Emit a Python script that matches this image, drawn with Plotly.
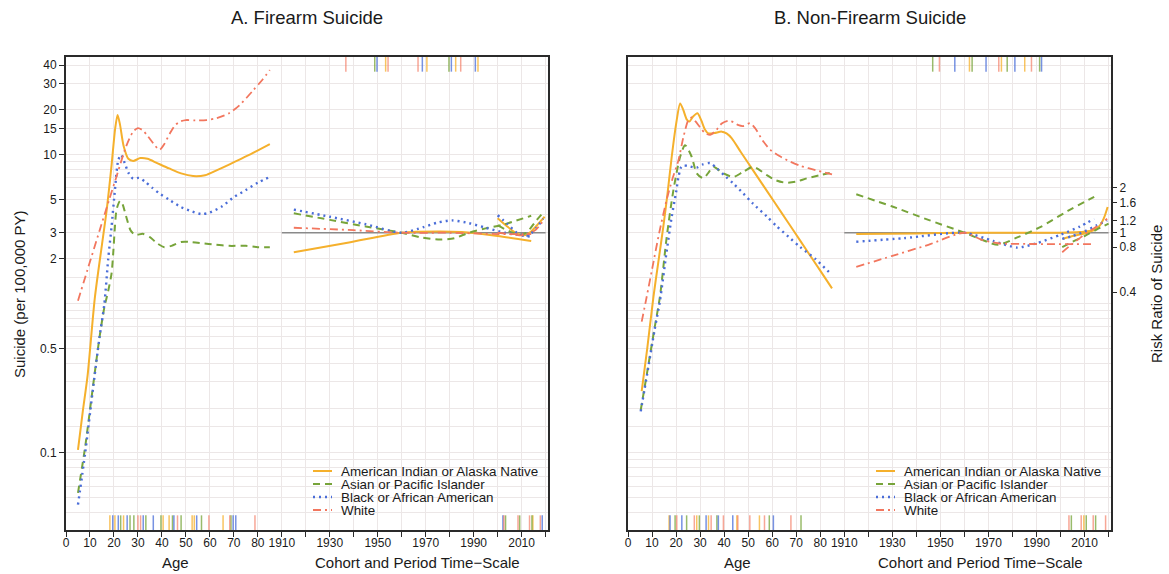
import math
import plotly.graph_objects as go

# ------------------------------------------------------------------ data
RACES = ["American Indian or Alaska Native", "Asian or Pacific Islander",
         "Black or African American", "White"]

# Panel A (firearm) - age effects, suicide per 100,000 PY
fa_aian_age = [5, 7, 9, 12, 15, 17, 19, 20.5, 21.5, 22.5, 24, 26, 28, 31, 34, 38, 43, 48, 53, 58, 63, 68, 73, 78, 85]
fa_aian_rate = [0.105, 0.19, 0.33, 1.09, 2.5, 4.3, 8.5, 15, 18.5, 16, 11.5, 9.4, 9.1, 9.5, 9.4, 8.8, 8.1, 7.5, 7.2, 7.3, 7.9, 8.6, 9.4, 10.3, 11.8]
fa_api_age = [5, 8, 11, 14, 16, 17.5, 19, 19.7, 20.4, 21.1, 22.5, 23.5, 25, 27, 29, 32, 35, 38, 41, 44, 48, 52, 57, 62, 68, 75, 80, 85]
fa_api_rate = [0.054, 0.11, 0.26, 0.6, 0.95, 1.2, 1.6, 2.2, 3.3, 4.3, 4.9, 4.7, 3.9, 3.1, 2.9, 2.95, 2.8, 2.55, 2.4, 2.45, 2.6, 2.6, 2.55, 2.5, 2.45, 2.45, 2.4, 2.4]
fa_blk_age = [5, 8, 11, 14, 16, 17.6, 19, 20.4, 21.8, 23, 24.5, 26, 28, 30.5, 33, 36, 39, 43, 47.5, 52, 56.5, 60, 65, 70, 75, 80, 85]
fa_blk_rate = [0.045, 0.1, 0.25, 0.6, 1.0, 2.0, 3.3, 5.8, 9.2, 10, 8.8, 7.6, 6.9, 7.0, 6.6, 6.0, 5.5, 5.0, 4.5, 4.2, 4.0, 4.1, 4.5, 5.2, 5.8, 6.5, 7.1]
fa_wht_age = [5, 9, 14, 18, 21, 25, 28, 30, 32, 34, 37, 39, 41, 43.3, 45.5, 47.5, 50, 54, 58.6, 62.8, 68, 72.5, 78, 82, 85]
fa_wht_rate = [1.05, 1.7, 3.1, 5.0, 7.1, 11.3, 14.3, 15.1, 14.6, 13.4, 11.6, 10.8, 11.8, 13.9, 15.8, 16.7, 17.1, 17.0, 17.1, 17.6, 19, 21.6, 27, 32, 37]

# Panel A - cohort and period effects (risk ratio)
fa_aian_coh_year = [1915, 1938, 1960, 1975, 1985, 2000, 2014]
fa_aian_coh_rr = [0.74, 0.86, 1.0, 1.02, 1.01, 0.95, 0.88]
fa_api_coh_year = [1915, 1930, 1945, 1960, 1968, 1976, 1982, 1988, 1995, 2002, 2014]
fa_api_coh_rr = [1.35, 1.22, 1.1, 1.0, 0.93, 0.9, 0.92, 1.0, 1.07, 1.13, 1.3]
fa_blk_coh_year = [1915, 1930, 1945, 1960, 1969, 1975, 1981, 1988, 1995, 2003, 2014]
fa_blk_coh_rr = [1.43, 1.28, 1.14, 1.0, 1.09, 1.17, 1.21, 1.16, 1.08, 1.0, 0.94]
fa_wht_coh_year = [1915, 1940, 1960, 1980, 2000, 2014]
fa_wht_coh_rr = [1.08, 1.04, 1.0, 1.0, 0.98, 0.98]

fa_aian_per_year = [2000, 2004, 2008, 2011, 2014, 2017, 2019.6]
fa_aian_per_rr = [1.25, 1.1, 0.99, 0.96, 1.02, 1.15, 1.28]
fa_api_per_year = [2000, 2005, 2009, 2012, 2016, 2019.6]
fa_api_per_rr = [1.12, 1.02, 0.97, 1.0, 1.2, 1.4]
fa_blk_per_year = [2000, 2004, 2008, 2011, 2013, 2016, 2019]
fa_blk_per_rr = [1.31, 1.15, 1.0, 0.96, 0.96, 1.07, 1.24]
fa_wht_per_year = [2000, 2005, 2009, 2012, 2016, 2019.6]
fa_wht_per_rr = [1.0, 0.98, 0.96, 0.97, 1.05, 1.24]

# Panel B (non-firearm) - age effects
nf_aian_age = [5.7, 8, 10.6, 12.5, 14.7, 16.5, 18.2, 20, 21.7, 23, 24.5, 25.5, 27, 28.9, 30.5, 32, 33.5, 36, 39, 41, 43.2, 47, 52.2, 58, 64, 69, 74.4, 80, 84.9]
nf_aian_rate = [0.26, 0.5, 1.12, 1.85, 3.3, 5.6, 9.7, 16, 22.1, 20, 17.2, 16.7, 18, 19, 17, 14.8, 13.9, 14.0, 14.3, 13.9, 12.9, 10.4, 7.8, 5.66, 4.06, 3.08, 2.28, 1.67, 1.27]
nf_api_age = [5.3, 8, 11, 13.3, 16.1, 18.9, 21.7, 23.75, 26.5, 28.6, 31.4, 33.5, 35.5, 39.7, 43.9, 48, 52.2, 57.8, 61, 65.4, 70, 74.4, 80, 84.9]
nf_api_rate = [0.194, 0.35, 0.68, 1.12, 2.8, 5.8, 9.7, 11.6, 9.7, 7.5, 6.95, 7.6, 8.3, 7.5, 7.1, 7.7, 8.3, 7.3, 6.8, 6.5, 6.6, 6.95, 7.3, 7.6]
nf_blk_age = [5.3, 8, 11, 13.3, 16, 18.2, 20, 21, 22, 23, 25, 28.6, 31, 34.2, 37, 40, 43.9, 48, 52, 57.8, 62, 67, 71.7, 78, 84.2]
nf_blk_rate = [0.19, 0.34, 0.66, 1.05, 2.2, 3.85, 5.6, 7.1, 8.2, 8.5, 8.4, 8.2, 8.6, 8.8, 8.1, 7.3, 6.4, 5.5, 4.7, 3.85, 3.3, 2.8, 2.4, 2.0, 1.6]
nf_wht_age = [5.7, 7.8, 10, 13, 16.1, 18.5, 21, 23, 25.1, 26.5, 28, 30, 32, 34.2, 36.5, 39, 41.8, 44, 46, 48, 50.8, 53, 56, 59.2, 63, 67.5, 72, 78, 84.9]
nf_wht_rate = [0.76, 1.12, 1.7, 3.0, 5.0, 6.9, 9.2, 13, 17.1, 17.8, 16.8, 15.3, 14, 13.6, 14.5, 16.2, 16.9, 16.5, 15.8, 15.6, 16.3, 15, 12.5, 10.8, 9.8, 9.0, 8.4, 7.9, 7.4]

# Panel B - cohort and period effects
nf_aian_coh_year = [1915, 1940, 1960, 1980, 2000, 2008, 2014]
nf_aian_coh_rr = [0.98, 0.99, 1.0, 1.0, 1.0, 1.01, 1.04]
nf_api_coh_year = [1915, 1930, 1945, 1960, 1967, 1974, 1982, 1992, 2003, 2014]
nf_api_coh_rr = [1.81, 1.5, 1.22, 1.0, 0.9, 0.83, 0.93, 1.1, 1.4, 1.74]
nf_blk_coh_year = [1915, 1935, 1960, 1972, 1982, 1990, 2000, 2008, 2014]
nf_blk_coh_rr = [0.87, 0.92, 1.0, 0.88, 0.795, 0.85, 0.97, 1.1, 1.24]
nf_wht_coh_year = [1915, 1930, 1945, 1960, 1967, 1974, 1990, 2014]
nf_wht_coh_rr = [0.59, 0.7, 0.83, 1.0, 0.9, 0.85, 0.84, 0.84]

nf_aian_per_year = [2001, 2005, 2011, 2016, 2018, 2019.6]
nf_aian_per_rr = [0.91, 0.95, 1.0, 1.1, 1.25, 1.49]
nf_api_per_year = [2000.7, 2005, 2010, 2015, 2020]
nf_api_per_rr = [0.8, 0.87, 0.95, 1.05, 1.15]
nf_blk_per_year = [2000.7, 2005, 2010, 2015, 2019.4]
nf_blk_per_rr = [0.91, 0.95, 1.02, 1.12, 1.21]
nf_wht_per_year = [2000.7, 2004, 2008, 2011, 2015, 2019.4]
nf_wht_per_rr = [0.74, 0.82, 0.92, 1.0, 1.1, 1.24]

# rug (knot) locations
fa_age_rug_aian = [18.3, 20.4, 24.0, 40.5, 43.0, 52.6, 53.5, 65.5]
fa_age_rug_api = [22.8, 26.7, 28.3, 33.3, 39.6, 44.4, 48.0, 56.5, 68.8]
fa_age_rug_blk = [19.5, 21.8, 25.5, 32.2, 36.4, 45.0, 54.5, 69.7, 70.8]
fa_age_rug_wht = [30.0, 31.1, 46.5, 59.6, 68.3, 78.8]
fa_per_rug_aian = [2014.7]
fa_per_rug_api = [2003.3, 2009.2, 2014.3]
fa_per_rug_blk = [2002.2, 2018.6]
fa_per_rug_wht = [2002.6, 2008.5, 2013.3, 2017.8]
fa_coh_rug_aian = [1953.3, 1970.5, 1982.5, 1991.8]
fa_coh_rug_api = [1948.75, 1979.7]
fa_coh_rug_blk = [1949.7, 1968.6, 1980.7, 1990.7]
fa_coh_rug_wht = [1936.7, 1954.3, 1966.8, 1984.6]

nf_age_rug_aian = [17.1, 28.6, 33.5, 45.3, 54.7]
nf_age_rug_api = [19.6, 24.4, 29.7, 37.0, 58.8, 72.0]
nf_age_rug_blk = [17.5, 22.4, 32.5, 37.6, 43.6, 60.5]
nf_age_rug_wht = [20.3, 27.6, 34.6, 39.7, 45.7, 50.7, 56.8, 67.8]
nf_per_rug_aian = [2009.7]
nf_per_rug_api = [2004.5, 2010.7, 2014.6]
nf_per_rug_blk = []
nf_per_rug_wht = [2003.5, 2008.6, 2013.6, 2018.75]
nf_coh_rug_aian = [1962.1, 1975.4, 1985.1]
nf_coh_rug_api = [1946.8, 1963.2, 1977.8, 1991.3]
nf_coh_rug_blk = [1956.0, 1969.0, 1981.0, 1992.1]
nf_coh_rug_wht = [1949.6, 1974.3, 1987.9]

AGE_TICKS = [0, 10, 20, 30, 40, 50, 60, 70, 80]
YEAR_TICKS = [1910, 1920, 1930, 1940, 1950, 1960, 1970, 1980, 1990, 2000, 2010, 2020]
YEAR_LABELS = [1910, 1930, 1950, 1970, 1990, 2010]
RATE_TICKS = [0.1, 0.5, 2, 3, 5, 10, 15, 20, 30, 40]
RR_TICKS = [0.4, 0.8, 1, 1.2, 1.6, 2]
RR_REF_YEARS = [1910, 2020]

# ------------------------------------------------------------------ style
W, H = 1169, 574
FONT = "Liberation Sans, Arial, Helvetica, sans-serif"
TXT = "#1a1a1a"
COLORS = ["#F5B02C", "#77A43A", "#4A6DD8", "#F2765E"]
RUGCOL = ["rgba(245,176,44,0.75)", "rgba(119,164,58,0.75)",
          "rgba(74,109,216,0.75)", "rgba(242,118,94,0.65)"]
DASHES = ["solid", "7px,5px", "2px,4px", "8px,4px,2px,4px"]
WIDTHS = [2, 2, 2.4, 1.8]
GRID = "#ece7e7"
FRAME = "#2a2a2a"
YEAR0 = 1820                 # cohort/period year -> shared x position
RR_REF = 3.0                 # rate level drawn at risk ratio 1

X_DOM = [[66 / W, 548 / W], [628 / W, 1111 / W]]
Y_DOM = [1 - 530 / H, 1 - 57 / H]
LO, HI = -1.517, 1.656
XR = [0, 201]


def px(x):
    return x / W


def py(y):
    return 1 - y / H


fig = go.Figure()

panels = [
    dict(xa="x", ya="y", rra="y3",
         age=[(fa_aian_age, fa_aian_rate), (fa_api_age, fa_api_rate),
              (fa_blk_age, fa_blk_rate), (fa_wht_age, fa_wht_rate)],
         coh=[(fa_aian_coh_year, fa_aian_coh_rr), (fa_api_coh_year, fa_api_coh_rr),
              (fa_blk_coh_year, fa_blk_coh_rr), (fa_wht_coh_year, fa_wht_coh_rr)],
         per=[(fa_aian_per_year, fa_aian_per_rr), (fa_api_per_year, fa_api_per_rr),
              (fa_blk_per_year, fa_blk_per_rr), (fa_wht_per_year, fa_wht_per_rr)],
         rug_age=[fa_age_rug_aian, fa_age_rug_api, fa_age_rug_blk, fa_age_rug_wht],
         rug_per=[fa_per_rug_aian, fa_per_rug_api, fa_per_rug_blk, fa_per_rug_wht],
         rug_coh=[fa_coh_rug_aian, fa_coh_rug_api, fa_coh_rug_blk, fa_coh_rug_wht]),
    dict(xa="x2", ya="y2", rra="y4",
         age=[(nf_aian_age, nf_aian_rate), (nf_api_age, nf_api_rate),
              (nf_blk_age, nf_blk_rate), (nf_wht_age, nf_wht_rate)],
         coh=[(nf_aian_coh_year, nf_aian_coh_rr), (nf_api_coh_year, nf_api_coh_rr),
              (nf_blk_coh_year, nf_blk_coh_rr), (nf_wht_coh_year, nf_wht_coh_rr)],
         per=[(nf_aian_per_year, nf_aian_per_rr), (nf_api_per_year, nf_api_per_rr),
              (nf_blk_per_year, nf_blk_per_rr), (nf_wht_per_year, nf_wht_per_rr)],
         rug_age=[nf_age_rug_aian, nf_age_rug_api, nf_age_rug_blk, nf_age_rug_wht],
         rug_per=[nf_per_rug_aian, nf_per_rug_api, nf_per_rug_blk, nf_per_rug_wht],
         rug_coh=[nf_coh_rug_aian, nf_coh_rug_api, nf_coh_rug_blk, nf_coh_rug_wht]),
]

shapes = []
for p in panels:
    # reference line RR = 1
    fig.add_trace(go.Scatter(x=[yr - YEAR0 for yr in RR_REF_YEARS], y=[1, 1],
                             xaxis=p["xa"], yaxis=p["rra"], mode="lines",
                             line=dict(color="#8a8a8a", width=1.6),
                             showlegend=False, hoverinfo="skip"))
    for i in range(4):
        line = dict(color=COLORS[i], width=WIDTHS[i], dash=DASHES[i],
                    shape="spline", smoothing=0.7)
        a, r = p["age"][i]
        fig.add_trace(go.Scatter(x=a, y=r, xaxis=p["xa"], yaxis=p["ya"], mode="lines",
                                 line=line, name=RACES[i], showlegend=False))
        for key in ("coh", "per"):
            yrs, rr = p[key][i]
            fig.add_trace(go.Scatter(x=[yr - YEAR0 for yr in yrs], y=rr,
                                     xaxis=p["xa"], yaxis=p["rra"], mode="lines",
                                     line=line, name=RACES[i], showlegend=False))
        dom = p["ya"] + " domain"
        for v in p["rug_age"][i]:
            shapes.append(dict(type="line", xref=p["xa"], yref=dom, x0=v, x1=v,
                               y0=0, y1=0.031, line=dict(color=RUGCOL[i], width=1.5)))
        for v in p["rug_per"][i]:
            shapes.append(dict(type="line", xref=p["xa"], yref=dom, x0=v - YEAR0,
                               x1=v - YEAR0, y0=0, y1=0.031,
                               line=dict(color=RUGCOL[i], width=1.5)))
        for v in p["rug_coh"][i]:
            shapes.append(dict(type="line", xref=p["xa"], yref=dom, x0=v - YEAR0,
                               x1=v - YEAR0, y0=0.969, y1=1,
                               line=dict(color=RUGCOL[i], width=1.5)))

# manual legends (one per panel)
annotations = []
LEG_ROWS = [471, 484, 497, 510]
for lx0 in (313, 876):
    for i, yr in enumerate(LEG_ROWS):
        shapes.append(dict(type="line", xref="paper", yref="paper",
                           x0=px(lx0), x1=px(lx0 + 19), y0=py(yr), y1=py(yr),
                           line=dict(color=COLORS[i], width=WIDTHS[i], dash=DASHES[i])))
        annotations.append(dict(text=RACES[i], xref="paper", yref="paper",
                                x=px(lx0 + 26), y=py(yr), xanchor="left", yanchor="middle",
                                showarrow=False, font=dict(size=13.4, color=TXT)))

# titles and axis labels
C = dict(xanchor="center", yanchor="middle", showarrow=False)
annotations += [
    dict(text="A. Firearm Suicide", xref="paper", yref="paper", x=px(307), y=py(18),
         font=dict(size=18.5, color=TXT), **C),
    dict(text="B. Non-Firearm Suicide", xref="paper", yref="paper", x=px(869.5), y=py(18),
         font=dict(size=18.5, color=TXT), **C),
    dict(text="Suicide (per 100,000 PY)", xref="paper", yref="paper", x=px(19), y=py(294),
         textangle=-90, font=dict(size=15, color=TXT), **C),
    dict(text="Risk Ratio of Suicide", xref="paper", yref="paper", x=px(1156), y=py(294),
         textangle=-90, font=dict(size=15, color=TXT), **C),
]
for xa in ("x", "x2"):
    annotations += [
        dict(text="Age", xref=xa, yref="paper", x=45.5, y=py(562),
             font=dict(size=15, color=TXT), **C),
        dict(text="Cohort and Period Time\u2212Scale", xref=xa, yref="paper",
             x=146.7, y=py(562), font=dict(size=15, color=TXT), **C),
    ]

# axes
xt_vals = AGE_TICKS + [yr - YEAR0 for yr in YEAR_TICKS]
xt_text = [str(a) for a in AGE_TICKS] + [str(yr) if yr in YEAR_LABELS else "" for yr in YEAR_TICKS]

minor_vals = [k * 10 ** e for e in (-2, -1, 0, 1) for k in (1, 1.5, 2, 3, 4, 5, 6, 7, 8, 9)]

xaxis_common = dict(range=XR, tickvals=xt_vals, ticktext=xt_text, ticks="outside",
                    ticklen=5, tickwidth=1.2, tickcolor=FRAME, showgrid=True,
                    gridcolor=GRID, gridwidth=1, showline=True, linecolor=FRAME,
                    linewidth=2, mirror=True, zeroline=False, ticklabelstandoff=-4,
                    tickfont=dict(size=12, color=TXT), automargin=False)
yaxis_common = dict(type="log", range=[LO, HI], domain=Y_DOM, showgrid=True,
                    gridcolor=GRID, gridwidth=1, showline=True, linecolor=FRAME,
                    linewidth=2, mirror=True, zeroline=False, automargin=False,
                    minor=dict(tickvals=minor_vals, showgrid=True, gridcolor=GRID,
                               gridwidth=1, ticks=""))
rr_common = dict(type="log", range=[LO - math.log10(RR_REF), HI - math.log10(RR_REF)],
                 domain=Y_DOM, showgrid=False, zeroline=False, automargin=False)

fig.update_layout(
    width=W, height=H, margin=dict(l=0, r=0, t=0, b=0),
    paper_bgcolor="white", plot_bgcolor="white",
    font=dict(family=FONT, color=TXT),
    showlegend=False,
    xaxis=dict(domain=X_DOM[0], anchor="y", **xaxis_common),
    xaxis2=dict(domain=X_DOM[1], anchor="y2", **xaxis_common),
    yaxis=dict(anchor="x", tickvals=RATE_TICKS,
               ticktext=[("%g" % v) for v in RATE_TICKS], ticks="outside", ticklen=5,
               tickwidth=1.2, tickcolor=FRAME, tickfont=dict(size=12, color=TXT),
               **yaxis_common),
    yaxis2=dict(anchor="x2", tickvals=RATE_TICKS, showticklabels=False, ticks="",
                **yaxis_common),
    yaxis3=dict(anchor="x", overlaying="y", side="right", visible=False, **rr_common),
    yaxis4=dict(anchor="x2", overlaying="y2", side="right", tickvals=RR_TICKS,
                ticktext=[("%g" % v) for v in RR_TICKS], ticks="outside", ticklen=5,
                tickwidth=1.2, tickcolor=FRAME, showline=False,
                tickfont=dict(size=12, color=TXT), **rr_common),
    shapes=shapes,
    annotations=annotations,
)

fig.write_html("out.html")
